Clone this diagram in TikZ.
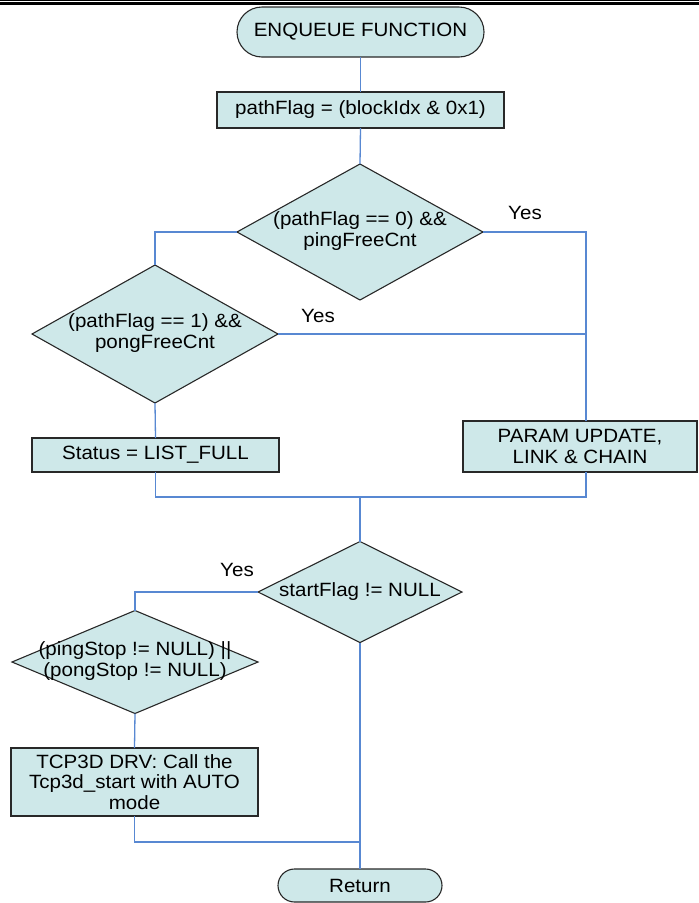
\documentclass[tikz,border=0pt]{standalone}
\usepackage{fontspec}
\setmainfont{Liberation Sans}[FakeStretch=1.07]
\usetikzlibrary{shapes.geometric,shapes.misc}
\definecolor{boxfill}{RGB}{206,232,233}
\definecolor{wire}{RGB}{88,136,210}
\definecolor{edge}{RGB}{40,40,40}
\tikzset{
  every node/.style={font=\fontsize{19.2}{20.5}\selectfont},
  procbox/.style={draw=edge, line width=1.1pt, fill=boxfill, rectangle, inner sep=0pt, outer sep=0pt, align=center},
  terminal/.style={draw=edge, line width=1.1pt, fill=boxfill, rounded rectangle, inner sep=0pt, outer sep=0pt},
  decision/.style={draw=edge, line width=1.1pt, fill=boxfill, diamond, inner sep=0pt, outer sep=0pt},
  dtext/.style={align=center, inner sep=0pt},
  conn/.style={draw=wire, line width=1.3pt},
  yeslbl/.style={inner sep=0pt}
}
\begin{document}
\begin{tikzpicture}[x=1pt, y=-1pt]
\useasboundingbox (0,0) rectangle (699,903);

% header rules
\draw[line width=1pt] (0,0.5) -- (699,0.5);
\draw[line width=3pt] (0,3.5) -- (699,3.5);

% nodes
\node[terminal, minimum width=247pt, minimum height=50pt] (enq) at (360.5,32) {ENQUEUE FUNCTION};
\node[procbox, minimum width=287pt, minimum height=36pt] (pf) at (360.5,110) {pathFlag = (blockIdx \& 0x1)};

\node[decision, minimum width=246pt, minimum height=136pt] (d1) at (360,232) {};
\node[dtext] (d1t) at (360,231) {(pathFlag == 0) \&\&\\pingFreeCnt};

\node[decision, minimum width=246pt, minimum height=138pt] (d2) at (155,334) {};
\node[dtext] (d2t) at (155,333) {(pathFlag == 1) \&\&\\pongFreeCnt};

\node[procbox, minimum width=247pt, minimum height=34pt] (status) at (155.5,455) {Status = LIST\_FULL};
\node[procbox, minimum width=234pt, minimum height=51pt] (param) at (580,446.5) {PARAM UPDATE,\\LINK \& CHAIN};

\node[decision, minimum width=204pt, minimum height=101pt] (d3) at (360,592) {};
\node[dtext] (d3t) at (360,592) {startFlag != NULL};

\node[decision, minimum width=246pt, minimum height=103pt] (d4) at (135,662) {};
\node[dtext] (d4t) at (135,661) {(pingStop != NULL) ||\\(pongStop != NULL)};

\node[procbox, minimum width=247pt, minimum height=68pt] (tcp) at (134.5,782) {TCP3D DRV: Call the\\Tcp3d\_start with AUTO\\mode};

\node[terminal, minimum width=164pt, minimum height=33pt] (ret) at (360,885.5) {Return};

% branch labels
\node[yeslbl] (y1) at (525,213) {Yes};
\node[yeslbl] (y2) at (318,316) {Yes};
\node[yeslbl] (y3) at (237,570) {Yes};

% junction points
\coordinate (rx) at (586,232);
\coordinate (mj) at (360,497);
\coordinate (rj) at (360,842);

% connectors
\draw[conn] (enq.south) -- (pf.north);
\draw[conn] (pf.south) -- (d1.north);
\draw[conn] (d1.west) -| (d2.north);
\draw[conn] (d1.east) -- (rx) -- (param.north -| rx);
\draw[conn] (d2.east) -- (d2.east -| rx);
\draw[conn] (d2.south) -- (status.north);
\draw[conn] (status.south) |- (mj -| rx) -- (param.south -| rx);
\draw[conn] (mj) -- (d3.north);
\draw[conn] (d3.west) -| (d4.north);
\draw[conn] (d4.south) -- (tcp.north);
\draw[conn] (tcp.south) |- (rj);
\draw[conn] (d3.south) -- (ret.north);
\end{tikzpicture}
\end{document}
